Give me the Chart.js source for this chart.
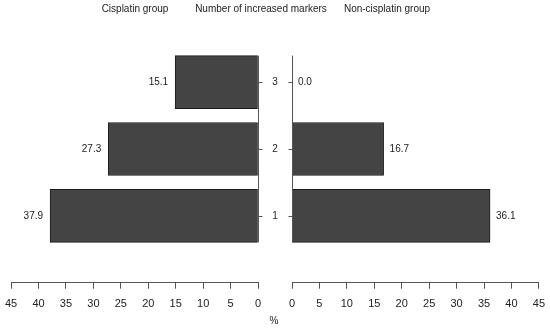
<!DOCTYPE html>
<html><head><meta charset="utf-8">
<script src="https://cdn.jsdelivr.net/npm/chart.js@4"></script>
<style>
body{margin:0;background:#fff;}
#wrap{position:relative;width:550px;height:330px;font-family:'Liberation Sans',Arial,sans-serif;color:#222;}
canvas{position:absolute;top:0;}
.t{position:absolute;font-size:10px;line-height:12px;white-space:nowrap;transform:translateX(-50%);}
</style></head><body>
<div id="wrap">
<canvas id="cl" width="283" height="330" style="left:0;width:283px;height:330px"></canvas>
<canvas id="cr" width="267" height="330" style="left:283px;width:267px;height:330px"></canvas>
<div class="t" style="left:135px;top:3px">Cisplatin group</div>
<div class="t" style="left:261px;top:3px">Number of increased markers</div>
<div class="t" style="left:387px;top:3px">Non-cisplatin group</div>
<div class="t" style="left:274px;top:315px">%</div>
</div>
<script>
const categories = ['3', '2', '1'];
const cisplatin = [15.1, 27.3, 37.9];
const nonCisplatin = [0.0, 16.7, 36.1];
const xMin = 0, xMax = 45, xStep = 5;

const FONT = "'Liberation Sans', Arial, sans-serif";
const TXT = '#222';
const AX = '#555';

function sidePlugin(isLeft) {
  return {
    id: 'side' + (isLeft ? 'L' : 'R'),
    afterDatasetsDraw(chart) {
      const ctx = chart.ctx;
      const meta = chart.getDatasetMeta(0);
      const xs = chart.scales.x;
      const x0 = xs.getPixelForValue(0);
      const bars = meta.data;
      let top = Infinity, bot = -Infinity;
      bars.forEach(b => {
        const h = b.height;
        top = Math.min(top, b.y - h / 2);
        bot = Math.max(bot, b.y + h / 2);
      });
      ctx.save();
      ctx.strokeStyle = AX;
      ctx.lineWidth = 1;
      ctx.beginPath();
      ctx.moveTo(Math.round(x0) + 0.5, top);
      ctx.lineTo(Math.round(x0) + 0.5, bot);
      bars.forEach(b => {
        const yy = Math.round(b.y) + 0.5;
        if (isLeft) { ctx.moveTo(Math.round(x0) + 0.5, yy); ctx.lineTo(Math.round(x0) + 4.5, yy); }
        else { ctx.moveTo(Math.round(x0) - 3.5, yy); ctx.lineTo(Math.round(x0) + 0.5, yy); }
      });
      ctx.stroke();
      ctx.fillStyle = TXT;
      ctx.font = '10px ' + FONT;
      ctx.textBaseline = 'middle';
      const vals = chart.data.datasets[0].data;
      bars.forEach((b, i) => {
        const v = vals[i].x.toFixed(1);
        if (isLeft) {
          ctx.textAlign = 'right';
          ctx.fillText(v, b.x - 7, b.y);
          ctx.textAlign = 'center';
          ctx.fillText(categories[i], x0 + 17, b.y);
        } else {
          ctx.textAlign = 'left';
          ctx.fillText(v, b.x + 6, b.y);
        }
      });
      ctx.restore();
    }
  };
}

function makeChart(id, values, isLeft, pad) {
  const data = categories.map((c, i) => ({ x: values[i], y: Number(c) }));
  return new Chart(document.getElementById(id), {
    type: 'bar',
    data: {
      datasets: [{
        data: data,
        backgroundColor: '#444444',
        borderColor: '#1a1a1a',
        borderWidth: 1,
        borderSkipped: false,
        barThickness: 53
      }]
    },
    options: {
      indexAxis: 'y',
      responsive: false,
      animation: false,
      events: [],
      layout: { padding: pad },
      plugins: { legend: { display: false }, tooltip: { enabled: false } },
      scales: {
        y: { type: 'linear', min: 0, max: 3.5, offset: false, display: false },
        x: {
          type: 'linear', position: 'bottom', min: xMin, max: xMax, reverse: isLeft,
          afterFit(s) { s.height = 47.3; },
          grid: { drawOnChartArea: false, drawTicks: true, tickLength: 6, color: AX, tickColor: AX },
          border: { display: true, color: AX, width: 1 },
          ticks: { stepSize: xStep, color: TXT, font: { size: 11, family: FONT, lineHeight: 1.93 }, padding: 5, maxRotation: 0, autoSkip: false }
        }
      }
    },
    plugins: [sidePlugin(isLeft)]
  });
}

makeChart('cl', cisplatin, true, { left: 11, right: 25, top: 48.7, bottom: 0 });
makeChart('cr', nonCisplatin, false, { left: 9, right: 11, top: 48.7, bottom: 0 });
</script>
</body></html>
